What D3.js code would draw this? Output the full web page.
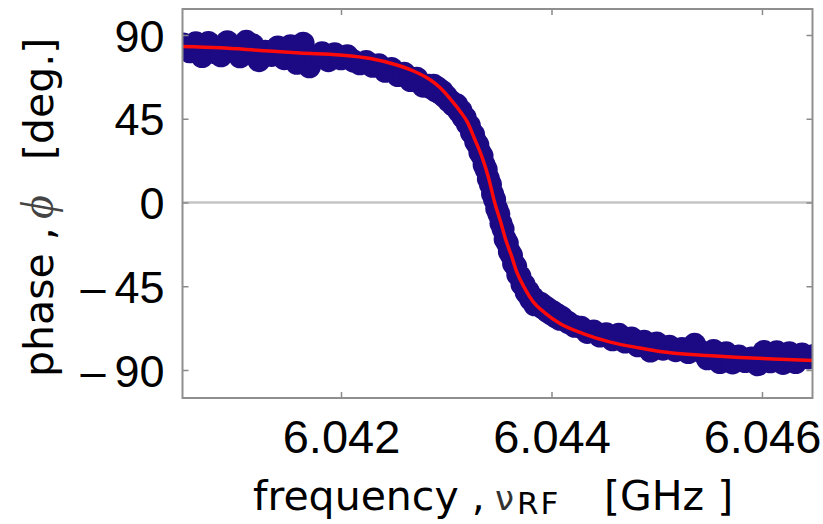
<!DOCTYPE html>
<html>
<head>
<meta charset="utf-8">
<script src="https://cdn.jsdelivr.net/npm/d3@7"></script>
<style>
  body { margin: 0; background: #fff; }
</style>
</head>
<body>
<svg id="chart" width="823" height="524"></svg>
<script>
const xTicks = [6.042, 6.044, 6.046];
const yTicks = [-90, -45, 0, 45, 90];

// measured sweep (GHz, degrees)
const measFreq = [
  6.04050, 6.04056, 6.04062, 6.04068, 6.04074, 6.04080, 6.04086, 6.04092, 6.04098, 6.04104,
  6.04110, 6.04116, 6.04122, 6.04128, 6.04134, 6.04140, 6.04146, 6.04152, 6.04158, 6.04164,
  6.04170, 6.04176, 6.04182, 6.04188, 6.04194, 6.04200, 6.04206, 6.04212, 6.04218, 6.04224,
  6.04230, 6.04236, 6.04242, 6.04248, 6.04254, 6.04260, 6.04266, 6.04272, 6.04278, 6.04284,
  6.04286, 6.04288, 6.04290, 6.04292, 6.04294, 6.04296, 6.04298, 6.04300, 6.04302, 6.04304,
  6.04306, 6.04308, 6.04310, 6.04312, 6.04314, 6.04316, 6.04318, 6.04320, 6.04322, 6.04324,
  6.04326, 6.04328, 6.04330, 6.04332, 6.04334, 6.04336, 6.04338, 6.04340, 6.04342, 6.04344,
  6.04346, 6.04348, 6.04350, 6.04352, 6.04354, 6.04356, 6.04358, 6.04360, 6.04362, 6.04364,
  6.04366, 6.04368, 6.04370, 6.04372, 6.04374, 6.04376, 6.04378, 6.04380, 6.04382, 6.04384,
  6.04386, 6.04388, 6.04390, 6.04392, 6.04394, 6.04396, 6.04398, 6.04400, 6.04402, 6.04404,
  6.04406, 6.04408, 6.04410,
  6.04416, 6.04422, 6.04428, 6.04434, 6.04440, 6.04446, 6.04452, 6.04458, 6.04464, 6.04470,
  6.04476, 6.04482, 6.04488, 6.04494, 6.04500, 6.04506, 6.04512, 6.04518, 6.04524, 6.04530,
  6.04536, 6.04542, 6.04548, 6.04554, 6.04560, 6.04566, 6.04572, 6.04578, 6.04584, 6.04590,
  6.04596, 6.04602, 6.04608, 6.04614, 6.04620, 6.04626, 6.04632, 6.04638, 6.04644, 6.04650
];
const measPhase = [
  85.2, 81.0, 85.8, 78.4, 86.0, 80.5, 78.8, 86.4, 83.0, 78.3,
  86.6, 84.8, 76.2, 81.3, 79.0, 83.6, 77.3, 84.2, 74.8, 85.6,
  72.9, 78.0, 80.4, 76.2, 79.9, 77.2, 78.8, 76.0, 74.5, 75.8,
  73.2, 74.0, 70.5, 72.0, 68.2, 69.5, 65.5, 66.8, 62.5, 63.0,
  61.5, 63.0, 60.0, 61.5, 58.8, 59.8, 57.0, 57.2, 54.8, 54.6,
  52.6, 51.8, 52.5, 49.0, 49.3, 45.8, 45.6, 42.2, 41.3, 37.5,
  36.4, 32.6, 31.0, 26.9, 25.1, 20.2, 17.6, 12.8, 9.7, 4.6,
  1.5, -3.4, -6.2, -11.2, -14.3, -19.7, -21.8, -26.5, -28.4, -32.9,
  -34.3, -38.8, -39.7, -44.0, -44.2, -48.4, -47.8, -51.9, -51.0, -55.0,
  -53.2, -54.6, -54.3, -56.8, -56.0, -58.5, -57.6, -60.0, -59.0, -61.4,
  -60.5, -62.8, -61.8,
  -64.5, -66.5, -67.0, -69.8, -69.0, -71.8, -70.5, -73.8, -70.8, -75.0,
  -72.8, -77.0, -74.5, -79.8, -75.5, -78.8, -77.2, -79.6, -78.5, -80.6,
  -76.2, -80.0, -84.0, -79.5, -86.0, -80.8, -86.2, -82.5, -85.5, -83.5,
  -87.2, -80.0, -85.6, -80.2, -86.5, -80.8, -86.0, -81.4, -83.5, -82.0
];

// fitted curve
const fitFreq = [
  6.04049, 6.04085, 6.04123, 6.04161, 6.04199, 6.04228, 6.04253, 6.04270, 6.04285, 6.04294,
  6.04304, 6.04313, 6.04320, 6.04327, 6.04334, 6.04340, 6.04346, 6.04352, 6.04356, 6.04362,
  6.04367, 6.04375, 6.04382, 6.04394, 6.04408, 6.04430, 6.04456, 6.04484, 6.04503, 6.04548,
  6.04579, 6.04611, 6.04649
];
const fitPhase = [
  83.8, 83.1, 81.7, 80.3, 79.3, 77.4, 73.9, 70.4, 65.8, 61.8,
  55.6, 49.2, 43.3, 34.1, 24.4, 13.7, 0, -11.0, -19.1, -28.7,
  -37.3, -46.5, -52.9, -59.4, -65.0, -70.4, -75.0, -78.2, -80.1, -82.2,
  -83.3, -84.1, -84.9
];

const svg = d3.select("#chart");
const L = 182.5, R = 812.5, T = 9, B = 398;

const x = d3.scaleLinear().domain([6.040494, 6.04648]).range([L, R]);
const y = d3.scaleLinear().domain([-105.05, 103.97]).range([B, T]);

svg.append("clipPath").attr("id", "plot")
  .append("rect").attr("x", L).attr("y", T).attr("width", R - L).attr("height", B - T);

// zero line
svg.append("line")
  .attr("x1", L).attr("x2", R)
  .attr("y1", y(0)).attr("y2", y(0))
  .attr("stroke", "#c4c4c4").attr("stroke-width", 2.5);

const plot = svg.append("g").attr("clip-path", "url(#plot)");

plot.selectAll("circle")
  .data(measFreq.map((f, i) => [f, measPhase[i]]))
  .enter().append("circle")
  .attr("cx", d => x(d[0]))
  .attr("cy", d => y(d[1]))
  .attr("r", 11.5)
  .attr("fill", "#1b0a83");

plot.append("path")
  .datum(fitFreq.map((f, i) => [f, fitPhase[i]]))
  .attr("fill", "none")
  .attr("stroke", "#ff0a0a")
  .attr("stroke-width", 3.5)
  .attr("d", d3.line().x(d => x(d[0])).y(d => y(d[1])).curve(d3.curveMonotoneX));

// axes
const tickFont = "'Liberation Sans', Arial, sans-serif";
const fmtY = d => d < 0 ? "\u2013\u2009" + Math.abs(d) : String(d);

const ax = svg.append("g").attr("transform", `translate(0,${B})`)
  .call(d3.axisBottom(x).tickValues(xTicks).tickSize(-6).tickFormat(d3.format(".3f")));
ax.selectAll("text").attr("y", 55).attr("dy", 0)
  .style("font-family", tickFont).style("font-size", "47px").attr("fill", "#000");

const axTop = svg.append("g").attr("transform", `translate(0,${T})`)
  .call(d3.axisTop(x).tickValues(xTicks).tickSize(-6).tickFormat(""));

const ay = svg.append("g").attr("transform", `translate(${L},0)`)
  .call(d3.axisLeft(y).tickValues(yTicks).tickSize(-6).tickPadding(18).tickFormat(fmtY));
ay.selectAll("text").attr("dy", "0.36em")
  .style("font-family", tickFont).style("font-size", "45px").attr("fill", "#000");

const ayR = svg.append("g").attr("transform", `translate(${R},0)`)
  .call(d3.axisRight(y).tickValues(yTicks).tickSize(-6).tickFormat(""));

[ax, axTop, ay, ayR].forEach(g => {
  g.select(".domain").remove();
  g.selectAll(".tick line").attr("stroke", "#8a8a8a").attr("stroke-width", 1.5);
});

// frame
svg.append("rect")
  .attr("x", L).attr("y", T).attr("width", R - L).attr("height", B - T)
  .attr("fill", "none").attr("stroke", "#8f8f8f").attr("stroke-width", 2);

// axis titles
const labFont = "'DejaVu Sans', sans-serif";
const xl = svg.append("text")
  .attr("y", 510)
  .style("font-family", labFont).style("font-size", "41px").attr("fill", "#000");
xl.append("tspan").attr("x", 253).text("frequency ,");
xl.append("tspan").attr("x", 495).style("font-size", "34px").attr("fill", "#333").text("\u03bd");
xl.append("tspan").attr("x", 517).attr("y", 514).style("font-size", "31px").style("letter-spacing", "2px").text("RF");
xl.append("tspan").attr("x", 604).attr("y", 510).text("[GHz ]");

const yl = svg.append("text")
  .attr("transform", "translate(53,377) rotate(-90)")
  .style("font-family", labFont).style("font-size", "41px").attr("fill", "#000");
yl.append("tspan").attr("x", 0).text("phase ,");
yl.append("tspan").attr("x", 158).attr("fill", "#444")
  .style("font-family", "'Liberation Serif', serif").style("font-style", "italic")
  .style("font-size", "46px").text("\u03d5");
yl.append("tspan").attr("x", 217).attr("fill", "#000")
  .style("font-family", labFont).style("font-style", "normal").style("font-size", "41px").text("[deg.]");
</script>
</body>
</html>
